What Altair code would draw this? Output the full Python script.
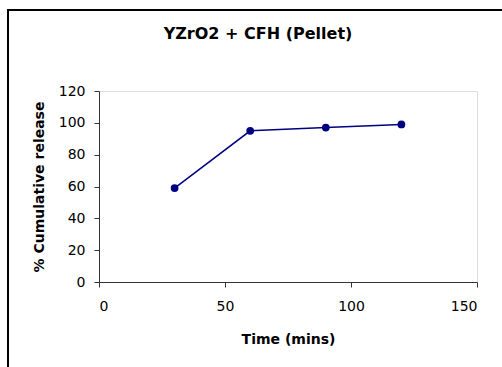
import altair as alt
import pandas as pd

time_mins = [30, 60, 90, 120]
release = [59, 95, 97, 99]

df = pd.DataFrame({"time": time_mins, "release": release})

FONT = "DejaVu Sans"
W, H = 378, 191
LEFT, TOP = 99, 91

x = alt.X("time:Q", scale=alt.Scale(domain=[0, 150]),
          axis=alt.Axis(values=[0, 50, 100, 150], title="Time (mins)", grid=False,
                        labelFontSize=14, titleFontSize=14, titleFontWeight="bold",
                        titlePadding=19, labelPadding=12, tickSize=5,
                        domainColor="#333333", tickColor="#333333", labelColor="#000000"))
y = alt.Y("release:Q", scale=alt.Scale(domain=[0, 120]),
          axis=alt.Axis(values=[0, 20, 40, 60, 80, 100, 120], title="% Cumulative release",
                        grid=False, labelFontSize=14, titleFontSize=14, titleFontWeight="bold",
                        titlePadding=12, labelPadding=9, tickSize=5,
                        domainColor="#333333", tickColor="#333333", labelColor="#000000"))

line = alt.Chart(df).mark_line(color="#000080", strokeWidth=1.5).encode(x=x, y=y)
pts = alt.Chart(df).mark_point(filled=True, color="#000080", size=60, opacity=1).encode(x=x, y=y)

frame = alt.Chart(df).mark_rect(fill=None, stroke="black", strokeWidth=2).encode(
    x=alt.value(8 - LEFT), x2=alt.value(515 - LEFT),
    y=alt.value(10 - TOP), y2=alt.value(375 - TOP))

chart = alt.layer(frame, line, pts).properties(
    width=W, height=H,
    title=alt.TitleParams("YZrO2 + CFH (Pellet)", fontSize=16, fontWeight="bold",
                          font=FONT, anchor="middle", offset=-33, dx=-30),
    autosize=alt.AutoSizeParams(type="none"),
    padding={"left": LEFT, "top": TOP, "right": 502 - LEFT - W, "bottom": 367 - TOP - H},
).configure_view(stroke="#888888", strokeWidth=1.5).configure(font=FONT).configure_axis(
    labelFont=FONT, titleFont=FONT)

chart.save("out.html", embed_options={"renderer": "svg", "actions": False})
